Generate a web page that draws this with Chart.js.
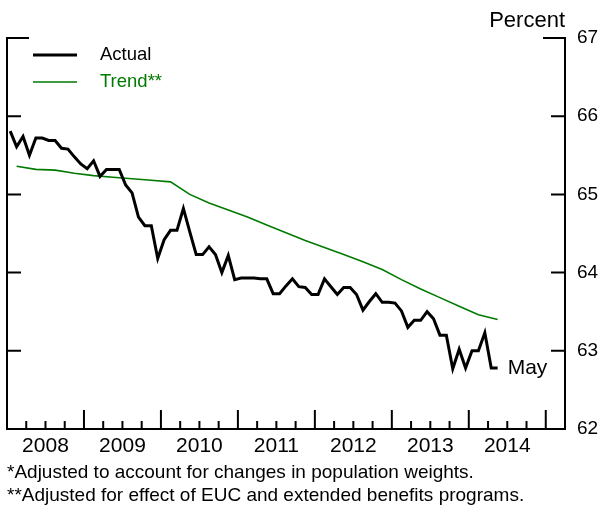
<!DOCTYPE html>
<html>
<head>
<meta charset="utf-8">
<script src="https://cdn.jsdelivr.net/npm/chart.js@4"></script>
<style>
html,body{margin:0;padding:0;background:#fff;}
canvas{display:block;}
</style>
</head>
<body>
<canvas id="c" width="602" height="505"></canvas>
<script>
// ---- data ----
const yearLabels = [2008, 2009, 2010, 2011, 2012, 2013, 2014];
const yTickValues = [62, 63, 64, 65, 66, 67];
const seriesNames = ['Actual', 'Trend**'];
const footnotes = [
  '*Adjusted to account for changes in population weights.',
  '**Adjusted for effect of EUC and extended benefits programs.'
];
const unitLabel = 'Percent';
const lastLabel = 'May';
// monthly, Jan 2008 .. May 2014
const actualStart = { year: 2008, month: 0 };
const actualValues = [
  65.81, 65.61, 65.74, 65.50, 65.72, 65.72, 65.69, 65.69, 65.59, 65.58, 65.48, 65.39,
  65.33, 65.43, 65.23, 65.32, 65.32, 65.32, 65.12, 65.02, 64.71, 64.60, 64.60, 64.18,
  64.42, 64.54, 64.54, 64.82, 64.52, 64.23, 64.23, 64.33, 64.23, 64.00, 64.22, 63.91,
  63.93, 63.93, 63.93, 63.92, 63.92, 63.73, 63.73, 63.83, 63.92, 63.82, 63.81, 63.72,
  63.72, 63.92, 63.82, 63.72, 63.81, 63.81, 63.72, 63.52, 63.63, 63.73, 63.62, 63.62,
  63.61, 63.51, 63.30, 63.39, 63.39, 63.50, 63.41, 63.20, 63.20, 62.77, 63.02, 62.78,
  63.00, 63.00, 63.23, 62.78, 62.78
];
// quarterly, 2008Q1 .. 2014Q2
const trendStart = { year: 2008, quarter: 0 };
const trendValues = [
  65.36, 65.32, 65.31, 65.27, 65.24, 65.22, 65.20, 65.18, 65.16, 65.00,
  64.89, 64.80, 64.71, 64.61, 64.51, 64.41, 64.32, 64.23, 64.14, 64.04,
  63.91, 63.79, 63.68, 63.57, 63.46, 63.40
];

// ---- build points (time in decimal years, plotted mid-period) ----
const actualPts = actualValues.map((v, i) => ({ x: actualStart.year + (actualStart.month + i + 0.5) / 12, y: v }));
const trendPts = trendValues.map((v, i) => ({ x: trendStart.year + ((trendStart.quarter + i) * 3 + 1.5) / 12, y: v }));

const FONT = "'Liberation Sans', Arial, Helvetica, sans-serif";
const GREEN = 'rgb(0,122,0)';
const X_MIN = yearLabels[0], X_MAX = yearLabels[yearLabels.length - 1] + 1.25;

const decorPlugin = {
  id: 'decor',
  afterDraw(chart) {
    const { ctx, chartArea: a, scales } = chart;
    const xs = scales.x, ys = scales.y;
    ctx.save();
    ctx.strokeStyle = '#000';
    ctx.lineWidth = 2;
    ctx.lineCap = 'butt';
    // left frame line
    ctx.beginPath();
    ctx.moveTo(a.left, a.top - 1);
    ctx.lineTo(a.left, a.bottom + 1);
    ctx.stroke();
    // inward y ticks on both sides
    yTickValues.forEach(v => {
      if (v === yTickValues[0]) return;
      const y = ys.getPixelForValue(v);
      const len = v === yTickValues[yTickValues.length - 1] ? 22 : 14;
      ctx.beginPath();
      ctx.moveTo(a.left, y); ctx.lineTo(a.left + len, y);
      ctx.moveTo(a.right, y); ctx.lineTo(a.right - len, y);
      ctx.stroke();
    });
    // inward x ticks: quarters (minor) and years (major)
    for (let yr = yearLabels[0]; yr <= yearLabels[yearLabels.length - 1] + 1; yr++) {
      for (let q = 0; q < 4; q++) {
        const t = yr + q / 4;
        if (t <= X_MIN || t >= X_MAX) continue;
        const x = xs.getPixelForValue(t);
        const len = q === 0 ? 19 : 8;
        ctx.beginPath();
        ctx.moveTo(x, a.bottom); ctx.lineTo(x, a.bottom - len);
        ctx.stroke();
      }
    }
    // legend
    const ds = chart.data.datasets;
    const legendY = [55, 82];
    ds.forEach((d, i) => {
      ctx.strokeStyle = d.borderColor;
      ctx.lineWidth = d.borderWidth;
      ctx.beginPath();
      ctx.moveTo(33, legendY[i]); ctx.lineTo(77, legendY[i]);
      ctx.stroke();
      ctx.fillStyle = d.borderColor;
      ctx.font = '18.5px ' + FONT;
      ctx.textAlign = 'left';
      ctx.textBaseline = 'middle';
      ctx.fillText(d.label, 100, legendY[i]);
    });
    // unit label
    ctx.fillStyle = '#000';
    ctx.font = '22px ' + FONT;
    ctx.textAlign = 'right';
    ctx.textBaseline = 'alphabetic';
    ctx.fillText(unitLabel, a.right, 27);
    // last-point label
    const meta = chart.getDatasetMeta(0);
    const lastPt = meta.data[meta.data.length - 1];
    ctx.font = '21px ' + FONT;
    ctx.textAlign = 'left';
    ctx.textBaseline = 'middle';
    ctx.fillText(lastLabel, lastPt.x + 10, lastPt.y);
    // footnotes
    ctx.font = '19px ' + FONT;
    ctx.textBaseline = 'alphabetic';
    ctx.fillText(footnotes[0], 7, 478);
    ctx.fillText(footnotes[1], 7, 500.5);
    ctx.restore();
  }
};

new Chart(document.getElementById('c'), {
  type: 'line',
  data: {
    datasets: [
      { label: seriesNames[0], data: actualPts, borderColor: '#000', borderWidth: 3,
        pointRadius: 0, tension: 0, borderJoinStyle: 'miter', fill: false },
      { label: seriesNames[1], data: trendPts, borderColor: GREEN, borderWidth: 1.6,
        pointRadius: 0, tension: 0, fill: false }
    ]
  },
  options: {
    responsive: false,
    animation: false,
    devicePixelRatio: 1,
    layout: { padding: { top: 38, left: 7, right: 0, bottom: 0 } },
    plugins: { legend: { display: false }, tooltip: { enabled: false }, title: { display: false } },
    scales: {
      x: {
        type: 'linear',
        min: X_MIN,
        max: X_MAX,
        afterBuildTicks: (scale) => { scale.ticks = yearLabels.map(y => ({ value: y + 0.5 })); },
        afterFit: (scale) => { scale.height = 76; },
        ticks: {
          autoSkip: false, maxRotation: 0, padding: 5,
          color: '#000', font: { family: FONT, size: 21 },
          callback: (v, i) => String(yearLabels[i])
        },
        grid: { display: false, drawTicks: false },
        border: { display: true, color: '#000', width: 2 }
      },
      y: {
        position: 'right',
        min: yTickValues[0],
        max: yTickValues[yTickValues.length - 1],
        afterBuildTicks: (scale) => { scale.ticks = yTickValues.map(v => ({ value: v })); },
        afterFit: (scale) => { scale.width = 37; },
        ticks: { padding: 12, color: '#000', font: { family: FONT, size: 19 } },
        grid: { display: false, drawTicks: false },
        border: { display: true, color: '#000', width: 2 }
      }
    }
  },
  plugins: [decorPlugin]
});
</script>
</body>
</html>
